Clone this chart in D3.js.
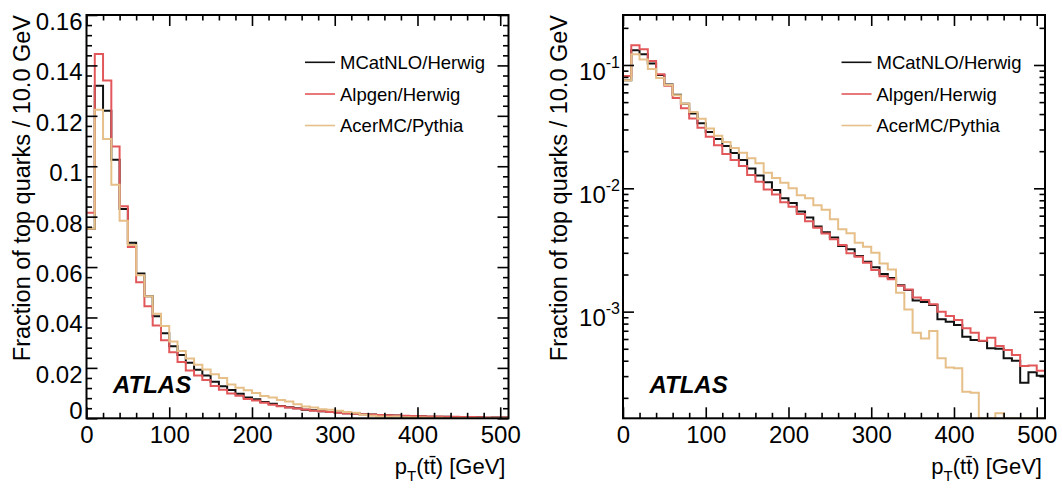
<!DOCTYPE html>
<html>
<head>
<meta charset="utf-8">
<script src="https://cdn.jsdelivr.net/npm/d3@7"></script>
<style>
body { margin: 0; background: #fff; }
svg { font-family: "Liberation Sans", Arial, Helvetica, sans-serif; }
.tick text { font-size: 24px; fill: #000; }
.tick line { stroke: #000; stroke-width: 1.6; }
</style>
</head>
<body>
<svg id="chart" width="1062" height="493"></svg>
<script>
// bin lower edges, 10 GeV wide
var binLow = [0, 10, 20, 30, 40, 50, 60, 70, 80, 90, 100, 110, 120, 130, 140, 150, 160, 170, 180, 190,
    200, 210, 220, 230, 240, 250, 260, 270, 280, 290, 300, 310, 320, 330, 340, 350, 360, 370, 380, 390,
    400, 410, 420, 430, 440, 450, 460, 470, 480, 490, 500];

var mcatnlo = [0.0752, 0.1319, 0.1220, 0.1026, 0.0830, 0.0696, 0.0574, 0.0484, 0.0405, 0.0337, 0.0286,
    0.0251, 0.0220, 0.0193, 0.0170, 0.0145, 0.0127, 0.0112, 0.0097, 0.0083, 0.0076,
    0.0065, 0.0058, 0.0049, 0.0044, 0.0040, 0.0034, 0.0032, 0.00282, 0.00254, 0.00229,
    0.00202, 0.00187, 0.00164, 0.00150, 0.00123, 0.00120, 0.00113, 0.000866, 0.000828, 0.000779,
    0.000626, 0.000588, 0.000578, 0.000504, 0.000500, 0.000418, 0.000400, 0.000265, 0.000322, 0.000302];

var alpgen = [0.0815, 0.1445, 0.1340, 0.1078, 0.0841, 0.0680, 0.0540, 0.0445, 0.0368, 0.0310, 0.0262,
    0.0223, 0.0190, 0.0170, 0.0152, 0.0128, 0.0113, 0.0098, 0.0089, 0.0077, 0.0071,
    0.0062, 0.0054, 0.0048, 0.0043, 0.00386, 0.00347, 0.00297, 0.00279, 0.00249, 0.00218,
    0.00194, 0.00183, 0.00162, 0.00151, 0.00130, 0.00124, 0.00115, 0.000998, 0.000921, 0.000855,
    0.000732, 0.000674, 0.000581, 0.000614, 0.000526, 0.000488, 0.000445, 0.000362, 0.000366, 0.000332];

var acermc = [0.0752, 0.1224, 0.1108, 0.0927, 0.0784, 0.0688, 0.0568, 0.0484, 0.0415, 0.0366, 0.0305,
    0.0267, 0.0237, 0.0212, 0.0194, 0.0175, 0.0160, 0.0134, 0.0121, 0.0111, 0.0100,
    0.0088, 0.0083, 0.0073, 0.0067, 0.0056, 0.00465, 0.00432, 0.00362, 0.00336, 0.00300,
    0.00246, 0.00220, 0.00142, 0.00104, 0.000674, 0.000607, 0.000696, 0.000418, 0.000353, 0.000347,
    0.000224, 0.000220, 0, 0, 0.00015, 0, 0, 0, 0, 0];

var seriesNames = ["MCatNLO/Herwig", "Alpgen/Herwig", "AcerMC/Pythia"];
var seriesColors = ["#111111", "#e2585a", "#e6bf89"];

var xTicks = [0, 100, 200, 300, 400, 500];
var linTicks = [0, 0.02, 0.04, 0.06, 0.08, 0.1, 0.12, 0.14, 0.16];
var linTickLabels = ["0", "0.02", "0.04", "0.06", "0.08", "0.1", "0.12", "0.14", "0.16"];
var logTicks = [1e-1, 1e-2, 1e-3];
var logTickExp = ["-1", "-2", "-3"];

var yTitle = "Fraction of top quarks / 10.0 GeV";

var svg = d3.select("#chart");
var plotTop = 15, plotBottom = 418.3, panelW = 422;

function drawPanel(left, isLog, idx) {
    var x = d3.scaleLinear().domain([0, 510]).range([left, left + panelW]);
    var y;
    if (isLog) {
        y = d3.scaleLog().domain([1.365e-4, 0.2543]).range([plotBottom, plotTop]);
    } else {
        y = d3.scaleLinear().domain([0, 0.16]).range([plotBottom, plotTop]);
    }
    var g = svg.append("g");

    g.append("clipPath").attr("id", "clip" + idx)
        .append("rect")
        .attr("x", left).attr("y", plotTop - 1)
        .attr("width", panelW).attr("height", plotBottom - plotTop + 2);

    // step histograms
    var line = d3.line()
        .x(function(d) { return x(d[0]); })
        .y(function(d) { return y(d[1]); })
        .curve(d3.curveStepAfter);

    [mcatnlo, alpgen, acermc].forEach(function(vals, s) {
        var pts = binLow.map(function(b, i) {
            var v = vals[i];
            if (isLog) v = Math.max(v, y.domain()[0]);
            return [b, v];
        });
        pts.push([510, pts[pts.length - 1][1]]);
        g.append("path")
            .attr("clip-path", "url(#clip" + idx + ")")
            .attr("d", line(pts))
            .attr("fill", "none")
            .attr("stroke", seriesColors[s])
            .attr("stroke-width", 2);
    });

    // x axes (ticks pointing inward)
    var minorX = x.ticks(25).filter(function(d) { return d % 100 !== 0; });
    g.append("g")
        .attr("transform", "translate(0," + plotBottom + ")")
        .call(d3.axisBottom(x).tickValues(xTicks).tickSize(-11).tickPadding(8).tickFormat(d3.format("d")))
        .call(function(a) { a.select(".domain").remove(); });
    g.append("g")
        .attr("transform", "translate(0," + plotBottom + ")")
        .call(d3.axisBottom(x).tickValues(minorX).tickSize(-5.5).tickFormat(""))
        .call(function(a) { a.select(".domain").remove(); });
    g.append("g")
        .attr("transform", "translate(0," + plotTop + ")")
        .call(d3.axisTop(x).tickValues(xTicks).tickSize(-11).tickFormat(""))
        .call(function(a) { a.select(".domain").remove(); });
    g.append("g")
        .attr("transform", "translate(0," + plotTop + ")")
        .call(d3.axisTop(x).tickValues(minorX).tickSize(-5.5).tickFormat(""))
        .call(function(a) { a.select(".domain").remove(); });

    // y axes
    var majorY, minorY;
    if (isLog) {
        majorY = logTicks;
        minorY = y.ticks().filter(function(d) { return logTicks.indexOf(d) < 0; });
    } else {
        majorY = linTicks;
        minorY = d3.range(0, 41).map(function(i) { return +(i * 0.004).toFixed(3); })
            .filter(function(d) { return linTicks.indexOf(d) < 0; });
    }
    var yl = g.append("g")
        .attr("transform", "translate(" + left + ",0)")
        .call(d3.axisLeft(y).tickValues(majorY).tickSize(-11).tickPadding(4)
            .tickFormat(function(d, i) { return isLog ? "" : linTickLabels[i]; }))
        .call(function(a) { a.select(".domain").remove(); });
    yl.selectAll(".tick text")
        .attr("dy", function(d) { return d === 0 ? "0em" : "0.6em"; });
    g.append("g")
        .attr("transform", "translate(" + left + ",0)")
        .call(d3.axisLeft(y).tickValues(minorY).tickSize(-5.5).tickFormat(""))
        .call(function(a) { a.select(".domain").remove(); });
    g.append("g")
        .attr("transform", "translate(" + (left + panelW) + ",0)")
        .call(d3.axisRight(y).tickValues(majorY).tickSize(-11).tickFormat(""))
        .call(function(a) { a.select(".domain").remove(); });
    g.append("g")
        .attr("transform", "translate(" + (left + panelW) + ",0)")
        .call(d3.axisRight(y).tickValues(minorY).tickSize(-5.5).tickFormat(""))
        .call(function(a) { a.select(".domain").remove(); });

    if (isLog) {
        logTicks.forEach(function(t, i) {
            var txt = g.append("text")
                .attr("x", left - 3)
                .attr("y", y(t) + 14.6)
                .attr("text-anchor", "end")
                .attr("font-size", 24);
            txt.append("tspan").text("10");
            txt.append("tspan").attr("font-size", 16).attr("dy", -12).text(logTickExp[i]);
        });
    }

    // frame
    g.append("rect")
        .attr("x", left).attr("y", plotTop)
        .attr("width", panelW).attr("height", plotBottom - plotTop)
        .attr("fill", "none")
        .attr("stroke", "#000")
        .attr("stroke-width", 2);

    // axis titles
    var xt = g.append("text")
        .attr("x", left + panelW - 3)
        .attr("y", 474)
        .attr("text-anchor", "end")
        .attr("font-size", 22);
    xt.append("tspan").text("p");
    xt.append("tspan").attr("font-size", 15).attr("dy", 7).text("T");
    xt.append("tspan").attr("dy", -7).text("(tt\u0304) [GeV]");

    g.append("text")
        .attr("transform", "translate(" + (left - 56.5) + "," + plotTop + ") rotate(-90)")
        .attr("text-anchor", "end")
        .attr("font-size", 23.5)
        .text(yTitle);

    // ATLAS label
    g.append("text")
        .attr("x", left + 26.5)
        .attr("y", 393)
        .attr("font-size", 24)
        .attr("font-weight", "bold")
        .attr("font-style", "italic")
        .text("ATLAS");

    // legend
    var rowsY = [62.3, 94, 125.5];
    seriesNames.forEach(function(name, i) {
        g.append("line")
            .attr("x1", left + 218.5).attr("x2", left + 248.5)
            .attr("y1", rowsY[i]).attr("y2", rowsY[i])
            .attr("stroke", seriesColors[i])
            .attr("stroke-width", 1.6);
        g.append("text")
            .attr("x", left + 253.5)
            .attr("y", rowsY[i] + 6.6)
            .attr("font-size", 18.5)
            .text(name);
    });
}

drawPanel(86.5, false, 0);
drawPanel(623, true, 1);
</script>
</body>
</html>
